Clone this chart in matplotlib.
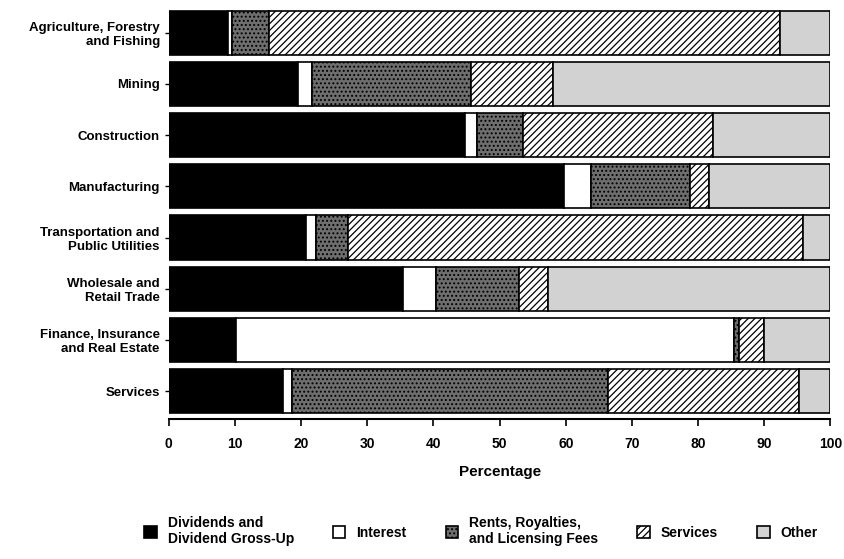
import numpy as np
import matplotlib
matplotlib.use("Agg")
import matplotlib.pyplot as plt

plt.rcParams['font.family'] = ['Liberation Sans', 'DejaVu Sans']
plt.rcParams['hatch.linewidth'] = 0.9

# 行业（自上而下）
industries = [
    "Agriculture, Forestry\nand Fishing",
    "Mining",
    "Construction",
    "Manufacturing",
    "Transportation and\nPublic Utilities",
    "Wholesale and\nRetail Trade",
    "Finance, Insurance\nand Real Estate",
    "Services",
]

# 各收入类型所占百分比
dividends = [9.0, 19.5, 44.8, 59.7, 20.8, 35.4, 10.2, 17.2]
interest = [0.6, 2.1, 1.8, 4.1, 1.4, 5.0, 75.2, 1.4]
rents = [5.6, 24.0, 7.0, 14.9, 4.9, 12.5, 0.8, 47.7]
services = [77.2, 12.5, 28.7, 3.0, 68.8, 4.4, 3.8, 28.9]
other = [7.6, 41.9, 17.7, 18.3, 4.1, 42.7, 10.0, 4.8]

series_labels = ["Dividends and\nDividend Gross-Up", "Interest",
                 "Rents, Royalties,\nand Licensing Fees", "Services", "Other"]
xticks = [0, 10, 20, 30, 40, 50, 60, 70, 80, 90, 100]

styles = [
    dict(facecolor="black", hatch=None),
    dict(facecolor="white", hatch=None),
    dict(facecolor="#6e6e6e", hatch="...."),
    dict(facecolor="white", hatch="/////"),
    dict(facecolor="#d2d2d2", hatch=None),
]

fig = plt.figure(figsize=(8.44, 5.59), dpi=100)
ax = fig.add_axes([0.2, 0.25, 0.784, 0.74])

y = np.arange(len(industries))
left = np.zeros(len(industries))
handles = []
for vals, lab, st in zip([dividends, interest, rents, services, other], series_labels, styles):
    b = ax.barh(y, vals, left=left, height=0.86, color=st["facecolor"],
                hatch=st["hatch"], edgecolor="black", linewidth=1.2, label=lab)
    handles.append(b)
    left += np.array(vals)

ax.set_ylim(len(industries) - 0.45, -0.53)
ax.set_xlim(0, 100)
ax.set_yticks(y)
ax.set_yticklabels(industries, fontsize=9.5, fontweight="bold")
ax.set_xticks(xticks)
ax.set_xticklabels([str(t) for t in xticks], fontsize=10, fontweight="bold")
ax.tick_params(axis="x", length=5, width=1.2, pad=8)
ax.tick_params(axis="y", length=3, width=1.0)
for s in ["top", "right", "left"]:
    ax.spines[s].set_visible(False)
ax.spines["bottom"].set_linewidth(1.5)
ax.set_xlabel("Percentage", fontsize=11, fontweight="bold", labelpad=10)

fig.legend(handles=handles, labels=series_labels, loc="lower center",
           bbox_to_anchor=(0.57, 0.0), ncol=5, frameon=False,
           handlelength=0.9, handleheight=0.9, columnspacing=2.8,
           prop=dict(weight="bold", size=10))

fig.savefig("out.png", dpi=100)
